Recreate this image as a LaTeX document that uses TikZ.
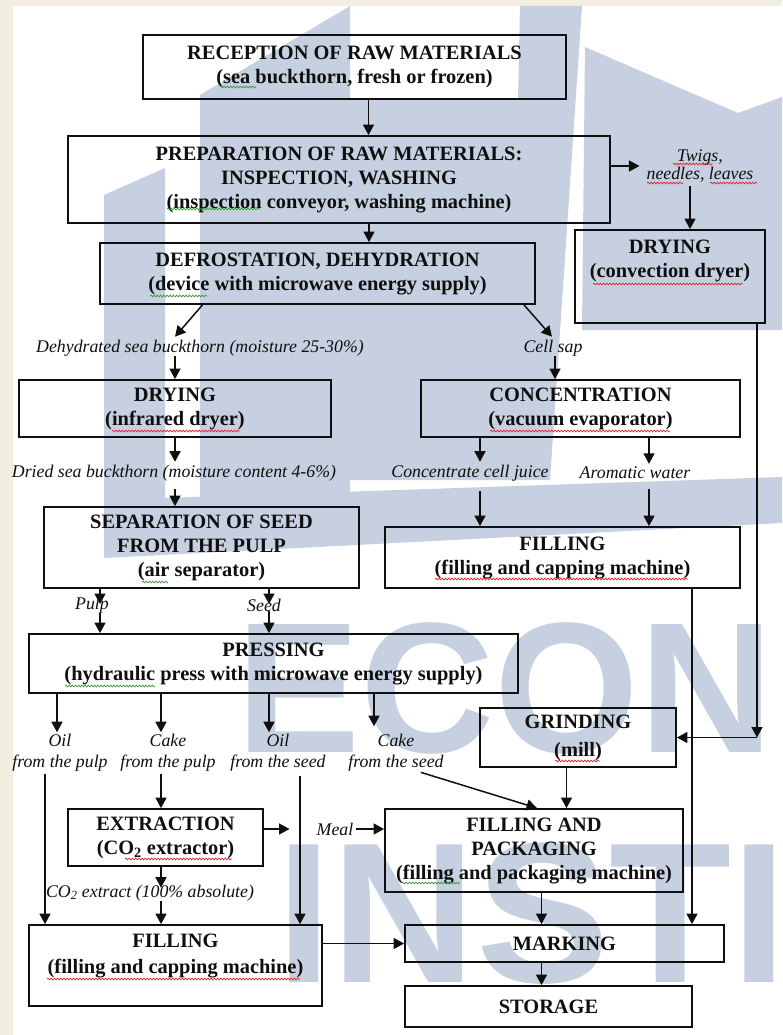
\documentclass[tikz,border=0pt]{standalone}
\usepackage{fontspec}
\setmainfont{Liberation Serif}
\newfontfamily\wmfont{Liberation Sans}
\usetikzlibrary{arrows.meta,decorations.pathmorphing}
\definecolor{wm}{RGB}{198,208,225}
\definecolor{cream}{RGB}{242,239,225}
\definecolor{ink}{RGB}{15,15,15}
\definecolor{sqred}{RGB}{225,40,40}
\definecolor{sqgreen}{RGB}{60,150,60}
\newcommand\bxfont{\fontsize{20.4}{24}\selectfont\bfseries}
\newcommand\lbfont{\fontsize{17.8}{21}\selectfont\itshape}
\begin{document}
\begin{tikzpicture}[x=1pt,y=-1pt,
  box/.style={draw=ink, line width=1.8pt, inner sep=0pt, align=center, font=\bxfont, text=ink},
  btxt/.style={inner sep=0pt, align=center, font=\bxfont, text=ink},
  lbl/.style={inner sep=0pt, align=center, font=\lbfont, text=ink},
  arr/.style={-{Triangle[length=10.5pt,width=11pt]}, line width=1.5pt, draw=ink},
  wmtxt/.style={inner sep=0pt, anchor=base west, text=wm},
  sq/.style={decorate, decoration={snake, amplitude=0.9pt, segment length=3.2pt}, line width=0.7pt},
  sqr/.style={sq, draw=sqred},
  sqg/.style={sq, draw=sqgreen}
]
\useasboundingbox (0,0) rectangle (782,1035);
% background
\fill[white] (0,0) rectangle (782,1035);
\fill[cream] (0,0) rectangle (12.5,1035);
\fill[cream] (0,0) rectangle (782,6);
% watermark
\fill[wm] (104,195) -- (165,168) -- (165,545) -- (104,545) -- cycle;
\fill[wm] (200,95) -- (350,6) -- (350,545) -- (200,545) -- cycle;
\fill[wm] (350,100) -- (518,100) -- (520,6) -- (582,6) -- (550,480) -- (350,480) -- cycle;
\fill[wm] (585,47) -- (738,113) -- (782,97) -- (782,330) -- (582,330) -- cycle;
\fill[wm] (104,500) -- (782,477) -- (782,523) -- (104,558) -- cycle;
\node[wmtxt, font=\wmfont\bfseries\fontsize{186}{186}\selectfont] (wmecon) at (236,752) {ECON};
\node[wmtxt, font=\wmfont\bfseries\fontsize{200}{200}\selectfont] (wminst) at (276,982) {INSTIT};

% boxes
\node[box, minimum width=423pt, minimum height=64pt] (recv) at (354.5,67) {RECEPTION OF RAW MATERIALS\\(sea buckthorn, fresh or frozen)};
\node[box, minimum width=542pt, minimum height=87pt] (prep) at (339,179.5) {PREPARATION OF RAW MATERIALS:\\INSPECTION, WASHING\\(inspection conveyor, washing machine)};
\node[box, minimum width=190pt, minimum height=93pt] (dryc) at (670,276.5) {};
\node[btxt] (dryct) at (670,261) {DRYING\\(convection dryer)};
\node[box, minimum width=435pt, minimum height=61pt] (defr) at (317.5,273.5) {DEFROSTATION, DEHYDRATION\\(device with microwave energy supply)};
\node[box, minimum width=312pt, minimum height=57pt] (dryi) at (175,408.5) {DRYING\\(infrared dryer)};
\node[box, minimum width=319pt, minimum height=57pt] (conc) at (580.5,408.5) {CONCENTRATION\\(vacuum evaporator)};
\node[box, minimum width=315pt, minimum height=81pt] (sep) at (201.5,547.5) {SEPARATION OF SEED\\FROM THE PULP\\(air separator)};
\node[box, minimum width=355pt, minimum height=61pt] (fillr) at (562.5,557.5) {FILLING\\(filling and capping machine)};
\node[box, minimum width=489pt, minimum height=59pt] (press) at (273.5,663.5) {PRESSING\\(hydraulic press with microwave energy supply)};
\node[box, minimum width=196pt, minimum height=59pt, font=\fontsize{20.4}{28}\selectfont\bfseries] (grind) at (578,737.5) {GRINDING\\(mill)};
\node[box, minimum width=195pt, minimum height=57pt] (extr) at (165.5,837.5) {EXTRACTION\\(CO\textsubscript{2} extractor)};
\node[box, minimum width=298pt, minimum height=83pt] (fillp) at (534,850.5) {FILLING AND\\PACKAGING\\(filling and packaging machine)};
\node[box, minimum width=293pt, minimum height=81pt] (filla) at (175.5,965.5) {};
\node[btxt, font=\fontsize{20.4}{26}\selectfont\bfseries] (fillat) at (175.5,956) {FILLING\\(filling and capping machine)};
\node[box, minimum width=319pt, minimum height=37pt] (mark) at (564.5,943.5) {MARKING};
\node[box, minimum width=287pt, minimum height=41pt] (stor) at (548.5,1006.5) {STORAGE};

% labels
\node[lbl, font=\fontsize{17.8}{18}\selectfont\itshape] (twigs) at (700,166) {Twigs,\\needles, leaves};
\node[lbl] (dehyd) at (200,348) {Dehydrated sea buckthorn (moisture 25-30\%)};
\node[lbl] (cellsap) at (553,348) {Cell sap};
\node[lbl] (dried) at (174,473) {Dried sea buckthorn (moisture content 4-6\%)};
\node[lbl] (juice) at (470,473) {Concentrate cell juice};
\node[lbl] (arom) at (635,473) {Aromatic water};
\node[lbl] (pulp) at (92,605) {Pulp};
\node[lbl] (seed) at (264,605) {Seed};
\node[lbl] (oil1) at (60,753) {Oil\\from the pulp};
\node[lbl] (cake1) at (168,753) {Cake\\from the pulp};
\node[lbl] (oil2) at (278,753) {Oil\\from the seed};
\node[lbl] (cake2) at (396,753) {Cake\\from the seed};
\node[lbl] (meal) at (335,829) {Meal};
\node[lbl] (co2) at (150,893) {CO\textsubscript{2} extract (100\% absolute)};
\coordinate (gc) at (757,737.5);

% spell-check underlines
\draw[sqg] (220,87) -- (256,87);
\draw[sqg] (167,209) -- (260,209);
\draw[sqg] (150,296) -- (207,296);
\draw[sqr] (593,284) -- (743,284);
\draw[sqr] (673,164) -- (713,164);
\draw[sqr] (647,183) -- (683,183);
\draw[sqr] (710,183) -- (757,183);
\draw[sqr] (112,431) -- (240,431);
\draw[sqr] (490,431) -- (670,431);
\draw[sqg] (142,582) -- (168,582);
\draw[sqr] (435,579) -- (688,579);
\draw[sqg] (65,686) -- (155,686);
\draw[sqr] (555,761) -- (600,761);
\draw[sqr] (125,859) -- (232,859);
\draw[sqg] (402,883) -- (460,883);
\draw[sqr] (47,979) -- (300,979);

% connectors
\draw[arr] (368.5,0 |- recv.south) -- (368.5,0 |- prep.north);
\draw[arr] (369,0 |- prep.south) -- (369,0 |- defr.north);
\draw[arr] (prep.east |- twigs.west) -- ([xshift=-7pt]twigs.west);
\draw[arr, shorten <=4pt] (690,0 |- twigs.south) -- (690,0 |- dryc.north);
\draw[arr] (202.5,0 |- defr.south) -- ([yshift=3pt]175,0 |- dehyd.north);
\draw[arr] (524,0 |- defr.south) -- ([yshift=3pt]552,0 |- cellsap.north);
\draw[arr] (175,0 |- dehyd.south) -- (175,0 |- dryi.north);
\draw[arr] (555,0 |- cellsap.south) -- (555,0 |- conc.north);
\draw[arr, shorten >=3pt] (175,0 |- dryi.south) -- (175,0 |- dried.north);
\draw[arr, shorten >=3pt] (480,0 |- conc.south) -- (480,0 |- juice.north);
\draw[arr, shorten >=3pt] (649,0 |- conc.south) -- (649,0 |- arom.north);
\draw[arr, shorten <=8pt] (175,0 |- dried.south) -- (175,0 |- sep.north);
\draw[arr, shorten <=10pt] (480,0 |- juice.south) -- (480,0 |- fillr.north);
\draw[arr, shorten <=10pt] (649,0 |- arom.south) -- (649,0 |- fillr.north);
\draw[arr] (100,0 |- sep.south) -- ([yshift=1pt]100,0 |- pulp.center);
\draw[arr] (100,0 |- pulp.south) -- (100,0 |- press.north);
\draw[arr] (269,0 |- sep.south) -- ([yshift=1pt]269,0 |- seed.center);
\draw[arr] (269,0 |- seed.south) -- (269,0 |- press.north);
\draw[arr] (57,0 |- press.south) -- ([yshift=2pt]57,0 |- oil1.north);
\draw[arr] (161,0 |- press.south) -- ([yshift=2pt]161,0 |- cake1.north);
\draw[arr] (269,0 |- press.south) -- ([yshift=2pt]269,0 |- oil2.north);
\draw[arr] (374,0 |- press.south) -- ([yshift=8pt]374,0 |- cake2.north);
\draw[arr] (757,0 |- dryc.south) -- (gc);
\draw[arr] (gc) -- (grind.east);
\draw[arr] (692,0 |- fillr.south) -- (692,0 |- mark.north);
\draw[arr] (566.5,0 |- grind.south) -- (566.5,0 |- fillp.north);
\draw[arr, shorten <=2pt] (45,0 |- oil1.south) -- (45,0 |- filla.north);
\draw[arr, shorten <=2pt] (161,0 |- cake1.south) -- (161,0 |- extr.north);
\draw[arr, shorten <=4pt] (300,0 |- oil2.south) -- (300,0 |- filla.north);
\draw[arr, shorten <=2pt] (419,0 |- cake2.south) -- (537,0 |- fillp.north);
\draw[arr] (extr.east |- meal.west) -- ([xshift=-27pt]meal.west);
\draw[arr, shorten <=3pt] (meal.east) -- (fillp.west |- meal.east);
\draw[arr] (161,0 |- extr.south) -- ([yshift=-3pt]161,0 |- co2.north);
\draw[arr] (161,0 |- co2.south) -- (161,0 |- filla.north);
\draw[arr] (541.5,0 |- fillp.south) -- (541.5,0 |- mark.north);
\draw[arr] (filla.east |- mark.west) -- (mark.west);
\draw[arr] (541.5,0 |- mark.south) -- (541.5,0 |- stor.north);
\end{tikzpicture}
\end{document}
